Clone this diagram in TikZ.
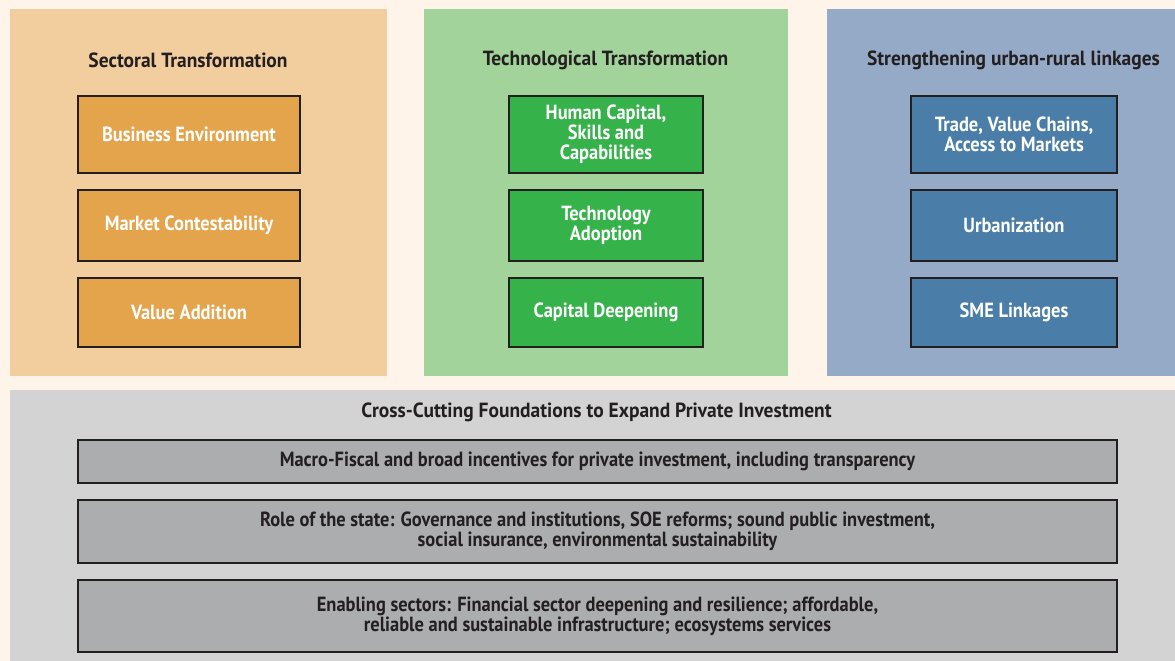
\documentclass[tikz,border=0pt]{standalone}
\usepackage{fontspec}
\setmainfont{PT Sans}[FakeStretch=0.9]
\newfontfamily\ttlfont{PT Sans}[FakeStretch=0.95]
\definecolor{bgc}{HTML}{FFF4EA}
\definecolor{pOrange}{HTML}{F2CD9E}
\definecolor{pGreen}{HTML}{A2D39B}
\definecolor{pBlue}{HTML}{94AAC6}
\definecolor{pGray}{HTML}{D3D3D3}
\definecolor{bOrange}{HTML}{E4A44B}
\definecolor{bGreen}{HTML}{36B24A}
\definecolor{bBlue}{HTML}{4A7EA8}
\definecolor{bGray}{HTML}{ACADAF}
\definecolor{ink}{HTML}{231F20}
\tikzset{
  panel/.style={draw=none,inner sep=0pt,anchor=north west},
  itembox/.style={draw=ink,line width=2.4pt,inner sep=2pt,align=center,text=white,
    font=\fontsize{20.5}{20}\selectfont\bfseries},
  footbox/.style={draw=ink,line width=2.4pt,inner sep=2pt,align=center,text=ink,fill=bGray,
    font=\fontsize{20.5}{20}\selectfont\bfseries},
  ttl/.style={text=ink,font=\ttlfont\fontsize{20.5}{20}\selectfont\bfseries,inner sep=0pt},
}
\begin{document}
\begin{tikzpicture}[x=1pt,y=-1pt]
\fill[bgc] (0,0) rectangle (1175,661);
\useasboundingbox (0,0) rectangle (1175,661);
% panels
\node[panel,fill=pOrange,minimum width=377pt,minimum height=367pt] (p1) at (10,9) {};
\node[panel,fill=pGreen,minimum width=364pt,minimum height=367pt] (p2) at (424,9) {};
\node[panel,fill=pBlue,minimum width=348pt,minimum height=367pt] (p3) at (827,9) {};
\node[panel,fill=pGray,minimum width=1165pt,minimum height=271pt] (p4) at (10,390) {};
% titles
\node[ttl] (t1) at (188,60) {Sectoral Transformation};
\node[ttl] (t2) at (605.5,60) {Technological Transformation};
\node[ttl] (t3) at (1013.5,60) {Strengthening urban-rural linkages};
\node[ttl] (t4) at (596.5,412) {Cross-Cutting Foundations to Expand Private Investment};
% panel 1
\node[itembox,fill=bOrange,minimum width=222pt,minimum height=77pt] (a1) at (189,134.5) {Business Environment};
\node[itembox,fill=bOrange,minimum width=222pt,minimum height=71pt] (a2) at (189,225.5) {Market Contestability};
\node[itembox,fill=bOrange,minimum width=222pt,minimum height=69pt] (a3) at (189,312.5) {Value Addition};
% panel 2
\node[itembox,fill=bGreen,minimum width=194pt,minimum height=77pt] (b1) at (606,134.5) {Human Capital,\\Skills and\\Capabilities};
\node[itembox,fill=bGreen,minimum width=194pt,minimum height=71pt] (b2) at (606,225.5) {Technology\\Adoption};
\node[itembox,fill=bGreen,minimum width=194pt,minimum height=69pt] (b3) at (606,312.5) {Capital Deepening};
% panel 3
\node[itembox,fill=bBlue,minimum width=206pt,minimum height=77pt] (c1) at (1014,134.5) {Trade, Value Chains,\\Access to Markets};
\node[itembox,fill=bBlue,minimum width=206pt,minimum height=71pt] (c2) at (1014,225.5) {Urbanization};
\node[itembox,fill=bBlue,minimum width=206pt,minimum height=69pt] (c3) at (1014,312.5) {SME Linkages};
% bottom
\node[footbox,minimum width=1039pt,minimum height=43pt] (d1) at (597.5,461.5) {Macro-Fiscal and broad incentives for private investment, including transparency};
\node[footbox,minimum width=1039pt,minimum height=63pt] (d2) at (597.5,531.5) {Role of the state: Governance and institutions, SOE reforms; sound public investment,\\social insurance, environmental sustainability};
\node[footbox,minimum width=1039pt,minimum height=72pt] (d3) at (597.5,616) {Enabling sectors: Financial sector deepening and resilience; affordable,\\reliable and sustainable infrastructure; ecosystems services};
\end{tikzpicture}
\end{document}
